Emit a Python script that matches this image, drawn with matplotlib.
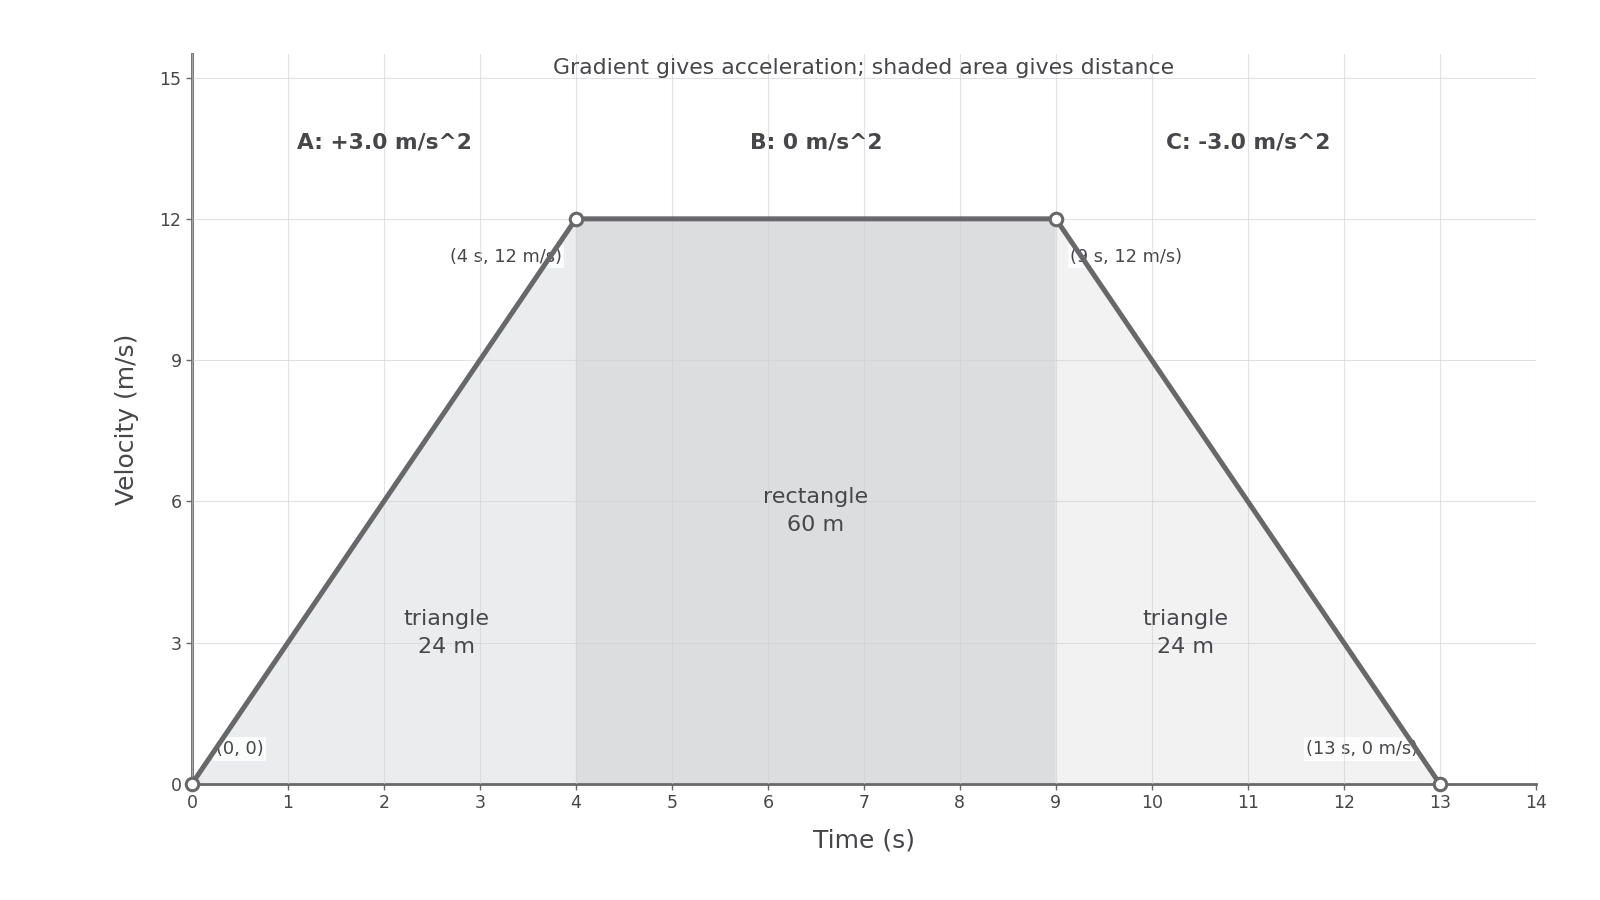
import numpy as np
import matplotlib.pyplot as plt

# velocity-time profile
time_pts = [0, 4, 9, 13]
vel_pts = [0, 12, 12, 0]
point_labels = ["(0, 0)", "(4 s, 12 m/s)", "(9 s, 12 m/s)", "(13 s, 0 m/s)"]

phase_labels = ["A: +3.0 m/s^2", "B: 0 m/s^2", "C: -3.0 m/s^2"]
phase_x = [2.0, 6.5, 11.0]

area_labels = ["triangle\n24 m", "rectangle\n60 m", "triangle\n24 m"]
area_x = [2.65, 6.5, 10.35]
area_y = [3.2, 5.8, 3.2]

line_col = "#68686b"
text_col = "#46464b"

fig = plt.figure(figsize=(16, 9), dpi=100)
ax = fig.add_axes([0.12, 0.1292, 0.8398, 0.8107])

# shaded areas
ax.fill_between(time_pts[0:2], vel_pts[0:2], color="#ebecee", zorder=1)
ax.fill_between(time_pts[1:3], vel_pts[1:3], color="#dcdddf", zorder=1)
ax.fill_between(time_pts[2:4], vel_pts[2:4], color="#f2f2f2", zorder=1)

ax.set_axisbelow(False)
ax.grid(True, color="#d0d0d0", linewidth=0.8, alpha=0.6, zorder=1.5)

# point labels
offs = [(0.25, 0.74, "left"), (3.85, 11.2, "right"), (9.15, 11.2, "left"), (12.78, 0.74, "right")]
for (x, y, ha), lab in zip(offs, point_labels):
    ax.text(x, y, lab, ha=ha, va="center", fontsize=12.8, color=text_col, zorder=2,
            bbox=dict(boxstyle="square,pad=0.15", fc="white", ec="none", alpha=0.85))

ax.plot(time_pts, vel_pts, color=line_col, linewidth=3.6, zorder=3, solid_capstyle="round")
ax.plot(time_pts, vel_pts, "o", ms=9, mfc="white", mec=line_col, mew=2.2, zorder=4, clip_on=False)

for x, lab in zip(phase_x, phase_labels):
    ax.text(x, 13.63, lab, ha="center", va="center", fontsize=15.7, fontweight="bold", color=text_col)

for x, y, lab in zip(area_x, area_y, area_labels):
    ax.text(x, y, lab, ha="center", va="center", fontsize=16, color=text_col, linespacing=1.5)

ax.text(7.0, 15.2, "Gradient gives acceleration; shaded area gives distance",
        ha="center", va="center", fontsize=15.8, color=text_col)

ax.set_xlim(0, 14)
ax.set_ylim(0, 15.5)
ax.set_xticks(range(0, 15))
ax.set_yticks([0, 3, 6, 9, 12, 15])
ax.tick_params(colors=line_col, labelcolor=text_col, labelsize=12.5, length=4, width=1)
ax.set_xlabel("Time (s)", fontsize=18, color=text_col, labelpad=12)
ax.set_ylabel("Velocity (m/s)", fontsize=18, color=text_col, labelpad=15)

for s in ["top", "right"]:
    ax.spines[s].set_visible(False)
for s in ["left", "bottom"]:
    ax.spines[s].set_color(line_col)
    ax.spines[s].set_linewidth(2)

fig.savefig("out.png", dpi=100)
